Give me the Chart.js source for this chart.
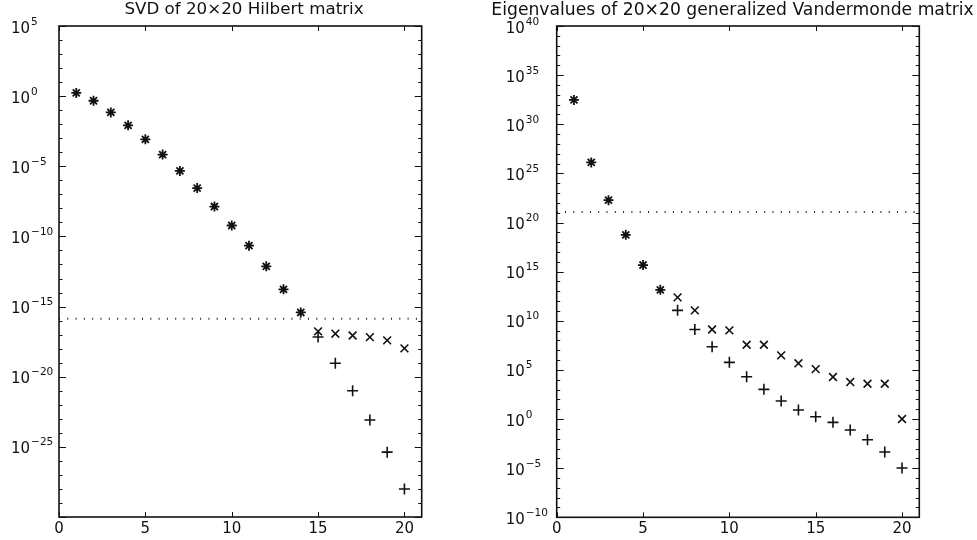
<!DOCTYPE html>
<html><head><meta charset="utf-8">
<script src="https://cdn.jsdelivr.net/npm/chart.js@4.4.1/dist/chart.umd.min.js"></script>
<style>
html,body{margin:0;padding:0;background:#fff;}
#wrap{position:relative;width:977px;height:540px;overflow:hidden;background:#fff;}
canvas{position:absolute;top:0;}
#left{left:0;} #right{left:488px;}
</style></head><body>
<div id="wrap"><canvas id="left" width="488" height="540"></canvas><canvas id="right" width="489" height="540"></canvas></div>
<script>
// ---------- data ----------
const xTickValues = [0, 5, 10, 15, 20];

// Left: SVD of 20x20 Hilbert matrix
const hilbertStarIdx = [1,2,3,4,5,6,7,8,9,10,11,12,13,14];
const hilbertStar = [1.7, 0.47, 6.9e-2, 8.3e-3, 8.3e-4, 6.8e-5, 4.7e-6, 2.8e-7, 1.35e-8, 6.0e-10, 2.2e-11, 7.4e-13, 1.7e-14, 3.8e-16];
const hilbertTailIdx = [15,16,17,18,19,20];
const hilbertX = [1.7e-17, 1.17e-17, 8.7e-18, 6.6e-18, 3.9e-18, 1.05e-18];
const hilbertPlus = [6.8e-18, 9.1e-20, 1.0e-21, 8.3e-24, 4.2e-26, 1.0e-28];
const hilbertLevel = 1.35e-16;
const leftYLabelExps = [5, 0, -5, -10, -15, -20, -25];

// Right: eigenvalues of 20x20 generalized Vandermonde matrix
const vanderStarIdx = [1,2,3,4,5,6];
const vanderStar = [3.0e32, 1.3e26, 1.9e22, 5.6e18, 4.7e15, 1.4e13];
const vanderTailIdx = [7,8,9,10,11,12,13,14,15,16,17,18,19,20];
const vanderX = [2.4e12, 1.15e11, 1.3e9, 1.05e9, 3.6e7, 3.6e7, 3.0e6, 4.7e5, 1.2e5, 1.9e4, 5.8e3, 3.9e3, 3.9e3, 1.0];
const vanderPlus = [1.15e11, 1.3e9, 2.3e7, 5.9e5, 2.0e4, 1.05e3, 68, 8.3, 1.7, 0.46, 0.076, 7.9e-3, 4.4e-4, 1.05e-5];
const vanderLevel = 1.15e21;
const rightYLabelExps = [40, 35, 30, 25, 20, 15, 10, 5, 0, -5, -10];

// ---------- helpers ----------
const INK = '#111';
const FONT = '"DejaVu Sans", "Liberation Sans", sans-serif';
const pts = (xs, ys) => xs.map((x, i) => ({x, y: ys[i]}));

const framePlugin = {
  id: 'frame',
  afterDraw(chart, args, o) {
    const {ctx, chartArea: a, scales: {x, y}} = chart;
    ctx.save();
    ctx.strokeStyle = INK;
    ctx.lineWidth = 1;
    ctx.beginPath();
    for (const v of o.xTicks) {
      const px = Math.round(x.getPixelForValue(v)) + 0.5;
      ctx.moveTo(px, a.bottom); ctx.lineTo(px, a.bottom - 5);
      ctx.moveTo(px, a.top); ctx.lineTo(px, a.top + 5);
    }
    for (let e = o.eMin; e <= o.eMax; e++) {
      const py = Math.round(y.getPixelForValue(Math.pow(10, e))) + 0.5;
      const L = (e % 5 === 0) ? 7 : 3.5;
      ctx.moveTo(a.left, py); ctx.lineTo(a.left + L, py);
      ctx.moveTo(a.right, py); ctx.lineTo(a.right - L, py);
    }
    ctx.stroke();
    ctx.lineWidth = 1.6;
    ctx.strokeRect(a.left, a.top, a.right - a.left, a.bottom - a.top);
    ctx.fillStyle = INK;
    ctx.textAlign = 'left';
    ctx.textBaseline = 'alphabetic';
    for (const e of o.labels) {
      const py = y.getPixelForValue(Math.pow(10, e));
      const bx = a.left - o.labelOffset;
      ctx.font = '15px ' + FONT;
      ctx.fillText('10', bx, py + 6.5);
      const w = ctx.measureText('10').width;
      ctx.font = '10.5px ' + FONT;
      ctx.fillText(String(e).replace('-', '\u2212'), bx + w + 1, py - 1.5);
    }
    ctx.restore();
  }
};

function makeChart(id, cfg) {
  const starDs = {data: pts(cfg.starIdx, cfg.star), pointStyle: 'star', pointRadius: 5, pointBorderWidth: 1.8,
                  borderColor: INK, backgroundColor: INK, showLine: false};
  const xDs = {data: pts(cfg.tailIdx, cfg.xs), pointStyle: 'crossRot', pointRadius: 5.5, pointBorderWidth: 1.6,
               borderColor: INK, backgroundColor: INK, showLine: false};
  const plusDs = {data: pts(cfg.tailIdx, cfg.plus), pointStyle: 'cross', pointRadius: 5.5, pointBorderWidth: 1.6,
                  borderColor: INK, backgroundColor: INK, showLine: false};
  const levelDs = {data: [{x: 0, y: cfg.level}, {x: 21, y: cfg.level}], showLine: true, pointRadius: 0,
                   borderColor: '#222', borderWidth: 2, borderDash: [1, 7.3]};
  return new Chart(document.getElementById(id), {
    type: 'scatter',
    data: {datasets: [levelDs, starDs, xDs, plusDs]},
    options: {
      responsive: false, animation: false, events: [],
      layout: {padding: 0},
      plugins: {
        legend: {display: false}, tooltip: {enabled: false},
        title: {display: true, text: cfg.title, color: INK,
                font: {family: FONT, size: cfg.titleSize, weight: 'normal', lineHeight: 1.2},
                padding: {top: 0, bottom: 26 - cfg.titleSize * 1.2}},
        frame: {xTicks: xTickValues, eMin: cfg.eMin, eMax: cfg.eMax, labels: cfg.labels, labelOffset: cfg.labelOffset}
      },
      scales: {
        x: {type: 'linear', min: 0, max: 21,
            afterBuildTicks: s => { s.ticks = xTickValues.map(v => ({value: v})); },
            afterFit: s => { s.height = cfg.xHeight; },
            grid: {display: false, drawTicks: false}, border: {display: false},
            ticks: {color: INK, font: {family: FONT, size: 15}, padding: 3, maxRotation: 0, autoSkip: false}},
        y: {type: 'logarithmic', position: 'left', min: Math.pow(10, cfg.eMin), max: Math.pow(10, cfg.eMax),
            afterFit: s => { s.width = cfg.leftW; },
            grid: {display: false, drawTicks: false}, border: {display: false}, ticks: {display: false}},
        yRight: {type: 'linear', position: 'right', display: true, min: 0, max: 1,
            afterFit: s => { s.width = cfg.rightW; },
            grid: {display: false, drawTicks: false}, border: {display: false}, ticks: {display: false}}
      }
    },
    plugins: [framePlugin]
  });
}

makeChart('left', {
  title: 'SVD of 20\u00d720 Hilbert matrix', titleSize: 16.7,
  starIdx: hilbertStarIdx, star: hilbertStar, tailIdx: hilbertTailIdx, xs: hilbertX, plus: hilbertPlus,
  level: hilbertLevel, eMin: -30, eMax: 5, labels: leftYLabelExps, labelOffset: 48,
  leftW: 59, rightW: 66.3, xHeight: 23
});
makeChart('right', {
  title: 'Eigenvalues of 20\u00d720 generalized Vandermonde matrix', titleSize: 17.2,
  starIdx: vanderStarIdx, star: vanderStar, tailIdx: vanderTailIdx, xs: vanderX, plus: vanderPlus,
  level: vanderLevel, eMin: -10, eMax: 40, labels: rightYLabelExps, labelOffset: 51,
  leftW: 68.7, rightW: 57.7, xHeight: 22.7
});
</script>
</body></html>
